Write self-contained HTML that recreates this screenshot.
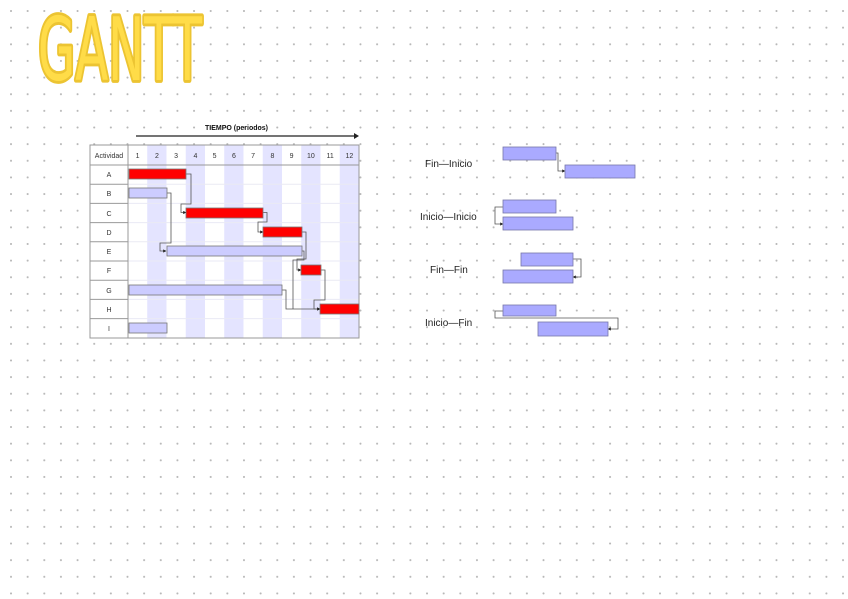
<!DOCTYPE html>
<html><head><meta charset="utf-8"><style>
html,body{margin:0;padding:0;background:#fff;}
body{width:848px;height:599px;overflow:hidden;
background-image:radial-gradient(circle,#b8b8b8 0.8px,transparent 1.2px);
background-size:16.65px 16.65px;background-position:2.7px 2.7px;}
svg{position:absolute;left:0;top:0}
</style></head><body>
<svg width="848" height="599" xmlns="http://www.w3.org/2000/svg" font-family="Liberation Sans, DejaVu Sans, sans-serif">
<defs><marker id="ar" markerWidth="4" markerHeight="4" refX="3.5" refY="2" orient="auto"><path d="M0,0 L4,2 L0,4 z" fill="#222"/></marker></defs>
<g transform="translate(38,80) scale(1,1.62)">
<text x="0" y="0" font-size="54" font-family="DejaVu Sans Condensed, Liberation Sans Narrow, sans-serif" fill="#ffdc48" stroke="#ecc432" stroke-width="3.5" stroke-linejoin="round" paint-order="stroke" textLength="164" lengthAdjust="spacingAndGlyphs">GANTT</text>
</g>
<text x="205" y="130" font-size="7" font-weight="bold" fill="#111" font-family="Liberation Sans Narrow, sans-serif">TIEMPO (periodos)</text>
<line x1="136" y1="136" x2="357" y2="136" stroke="#222" stroke-width="1.2"/>
<path d="M354 133 L359 136 L354 139z" fill="#222"/>
<rect x="90" y="145" width="269" height="193" fill="#fff"/>
<g fill="#e4e4ff">
<rect x="147.25" y="145" width="19.25" height="193"/><rect x="185.75" y="145" width="19.25" height="193"/><rect x="224.25" y="145" width="19.25" height="193"/><rect x="262.75" y="145" width="19.25" height="193"/><rect x="301.25" y="145" width="19.25" height="193"/><rect x="339.75" y="145" width="19.25" height="193"/>
</g>
<g stroke="#eaeaf4" stroke-width="1">
<line x1="128" y1="184.2" x2="359" y2="184.2"/><line x1="128" y1="203.4" x2="359" y2="203.4"/><line x1="128" y1="222.6" x2="359" y2="222.6"/><line x1="128" y1="241.8" x2="359" y2="241.8"/><line x1="128" y1="261" x2="359" y2="261"/><line x1="128" y1="280.2" x2="359" y2="280.2"/><line x1="128" y1="299.4" x2="359" y2="299.4"/><line x1="128" y1="318.6" x2="359" y2="318.6"/>
</g>
<g stroke="#999" stroke-width="1" fill="none">
<rect x="90" y="145" width="269" height="193"/>
<line x1="90" y1="165" x2="359" y2="165"/>
<line x1="128" y1="145" x2="128" y2="338"/>
<line x1="90" y1="184.2" x2="128" y2="184.2"/><line x1="90" y1="203.4" x2="128" y2="203.4"/><line x1="90" y1="222.6" x2="128" y2="222.6"/><line x1="90" y1="241.8" x2="128" y2="241.8"/><line x1="90" y1="261" x2="128" y2="261"/><line x1="90" y1="280.2" x2="128" y2="280.2"/><line x1="90" y1="299.4" x2="128" y2="299.4"/><line x1="90" y1="318.6" x2="128" y2="318.6"/>
</g>
<g font-size="7" fill="#333" text-anchor="middle">
<text x="109" y="158">Actividad</text>
<text x="137.6" y="158">1</text><text x="156.9" y="158">2</text><text x="176.1" y="158">3</text><text x="195.4" y="158">4</text><text x="214.6" y="158">5</text><text x="233.9" y="158">6</text><text x="253.1" y="158">7</text><text x="272.4" y="158">8</text><text x="291.6" y="158">9</text><text x="310.9" y="158">10</text><text x="330.1" y="158">11</text><text x="349.4" y="158">12</text>
<text x="109" y="177">A</text><text x="109" y="196">B</text><text x="109" y="216">C</text><text x="109" y="235">D</text><text x="109" y="254">E</text><text x="109" y="273">F</text><text x="109" y="293">G</text><text x="109" y="312">H</text><text x="109" y="331">I</text>
</g>
<g stroke="#555" stroke-width="0.8" fill="none" marker-end="url(#ar)">
<path d="M186 174 H191 V204 H181 V212.5 H186"/>
<path d="M167 193 H171 V243 H160 V251 H166"/>
<path d="M263 212.5 H267 V222 H258 V232 H263"/>
<path d="M302 232 H306 V259 H297 V270 H301"/>
<path d="M321 270 H325 V300 H314 V309 H320"/>
<path d="M282 290 H286 V309 H320"/>
</g>
<path d="M302 251 H304 V260 H293 V309" stroke="#555" stroke-width="0.8" fill="none"/>
<g stroke="#777" stroke-width="0.8">
<rect x="129" y="169" width="57" height="10" fill="#ff0000"/>
<rect x="129" y="188" width="38" height="10" fill="#ccccff"/>
<rect x="186" y="208" width="77" height="10" fill="#ff0000"/>
<rect x="263" y="227" width="39" height="10" fill="#ff0000"/>
<rect x="167" y="246" width="135" height="10" fill="#ccccff"/>
<rect x="301" y="265" width="20" height="10" fill="#ff0000"/>
<rect x="129" y="285" width="153" height="10" fill="#ccccff"/>
<rect x="320" y="304" width="39" height="10" fill="#ff0000"/>
<rect x="129" y="323" width="38" height="10" fill="#ccccff"/>
</g>
<g font-size="10" fill="#222">
<text x="425" y="167">Fin—Inicio</text>
<text x="420" y="220">Inicio—Inicio</text>
<text x="430" y="273">Fin—Fin</text>
<text x="425" y="326">Inicio—Fin</text>
</g>
<g stroke="#555" stroke-width="0.8" fill="none" marker-end="url(#ar)">
<path d="M556 153 H558 V171 H565"/>
<path d="M503 207 H495 V224 H503"/>
<path d="M573 259 H581 V277 H573"/>
<path d="M503 311 H495 V318 H618 V329 H608"/>
</g>
<g stroke="#7777aa" stroke-width="0.8" fill="#aaaaff">
<rect x="503" y="147" width="53" height="13"/>
<rect x="565" y="165" width="70" height="13"/>
<rect x="503" y="200" width="53" height="13"/>
<rect x="503" y="217" width="70" height="13"/>
<rect x="521" y="253" width="52" height="13"/>
<rect x="503" y="270" width="70" height="13"/>
<rect x="503" y="305" width="53" height="11"/>
<rect x="538" y="322" width="70" height="14"/>
</g>
</svg>
</body></html>
